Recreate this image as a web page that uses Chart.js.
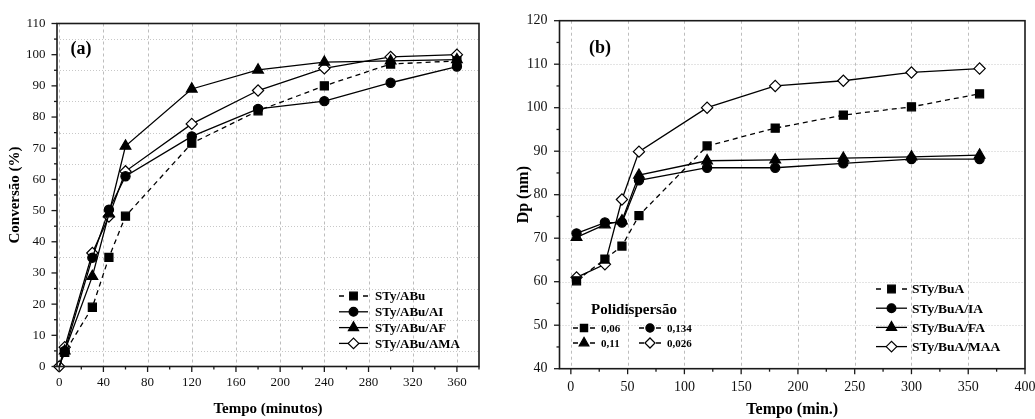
<!DOCTYPE html>
<html><head><meta charset="utf-8">
<script src="https://cdn.jsdelivr.net/npm/chart.js@4.4.0/dist/chart.umd.min.js"></script>
<style>
html,body{margin:0;padding:0;background:#fff;overflow:hidden}
#wrap{position:relative;width:1035px;height:419px;background:#fff}
#c1{position:absolute;left:0;top:0}
#c2{position:absolute;left:510px;top:0}
</style></head><body>
<div id="wrap">
<canvas id="c1" width="510" height="419"></canvas>
<canvas id="c2" width="525" height="419"></canvas>
</div>
<script>
// ---------- data (a) ----------
const timeA = [0, 5, 30, 45, 60, 120, 180, 240, 300, 360];
const convABu    = [0, 4.5, 19, 35, 48.2, 71.6, 82, 90, 97, 98];
const convABuAI  = [0, 5, 34.9, 50.3, 61, 73.8, 82.6, 85.1, 91, 96.2];
const convABuAF  = [0, 5, 28.9, 49, 70.7, 89, 95.1, 97.6, 98, 98.4];
const convABuAMA = [0, 6.2, 36.4, 48.1, 62.6, 77.8, 88.5, 95.6, 99.3, 100];
const labelsA = ['STy/ABu', 'STy/ABu/AI', 'STy/ABu/AF', 'STy/ABu/AMA'];
// ---------- data (b) ----------
const timeB = [5, 30, 45, 60, 120, 180, 240, 300, 360];
const dpBuA    = [60.2, 65.2, 68.2, 75.2, 91.2, 95.3, 98.3, 100.2, 103.2];
const dpBuAIA  = [71.1, 73.6, 73.6, 83.3, 86.2, 86.2, 87.2, 88.2, 88.2];
const dpBuAFA  = [70.2, 73.1, 74, 84.5, 87.8, 88, 88.4, 88.7, 89.1];
const dpBuAMAA = [61, 64, 78.9, 89.9, 100, 105, 106.2, 108.1, 109];
const labelsB = ['STy/BuA', 'STy/BuA/IA', 'STy/BuA/FA', 'STy/BuA/MAA'];
const polyLabels = ['0,06', '0,134', '0,11', '0,026'];

const SERIF = '"Liberation Serif", "DejaVu Serif", serif';
Chart.defaults.color = '#111';

function seq(a, b, s) { const r = []; for (let v = a; v <= b + 1e-9; v += s) r.push(+v.toFixed(6)); return r; }

const STYLES = [
  {pointStyle: 'rect', radius: 5.7, fill: '#000', dash: [5, 4]},
  {pointStyle: 'circle', radius: 4.6, fill: '#000', dash: []},
  {pointStyle: 'triangle', radius: 6.2, fill: '#000', dash: []},
  {pointStyle: 'rectRot', radius: 5.6, fill: '#fff', dash: []}
];

function marker(ctx, st, x, y, scale) {
  const r = st.radius * (scale || 1);
  ctx.save();
  ctx.setLineDash([]);
  ctx.fillStyle = st.fill; ctx.strokeStyle = '#000'; ctx.lineWidth = 1.2;
  ctx.beginPath();
  if (st.pointStyle === 'rect') { const s = r * Math.SQRT1_2; ctx.rect(x - s, y - s, 2 * s, 2 * s); }
  else if (st.pointStyle === 'circle') { ctx.arc(x, y, r, 0, Math.PI * 2); }
  else if (st.pointStyle === 'triangle') {
    let a = 0; ctx.moveTo(x + Math.sin(a) * r, y - Math.cos(a) * r);
    a += 2 * Math.PI / 3; ctx.lineTo(x + Math.sin(a) * r, y - Math.cos(a) * r);
    a += 2 * Math.PI / 3; ctx.lineTo(x + Math.sin(a) * r, y - Math.cos(a) * r);
    ctx.closePath();
  } else { ctx.moveTo(x - r, y); ctx.lineTo(x, y - r); ctx.lineTo(x + r, y); ctx.lineTo(x, y + r); ctx.closePath(); }
  ctx.fill(); ctx.stroke();
  ctx.restore();
}

function makeDatasets(xs, series, labels, hideFirst) {
  return series.map((ys, i) => ({
    label: labels[i],
    data: xs.map((x, k) => ({x: x, y: ys[k]})),
    borderColor: '#000',
    borderWidth: 1.3,
    borderDash: STYLES[i].dash,
    backgroundColor: STYLES[i].fill,
    pointStyle: STYLES[i].pointStyle,
    pointRadius: ctx => (hideFirst && ctx.dataIndex === 0 && i !== 3) ? 0 : STYLES[i].radius,
    pointHoverRadius: STYLES[i].radius,
    pointBackgroundColor: STYLES[i].fill,
    pointBorderColor: '#000',
    pointBorderWidth: 1.2,
    tension: 0,
    fill: false,
    clip: 6
  }));
}

function decoPlugin(o) {
  return {
    id: 'deco',
    beforeDatasetsDraw(chart) {
      const {ctx, chartArea: a, scales} = chart; const x = scales.x, y = scales.y;
      ctx.save();
      ctx.lineWidth = 1; ctx.strokeStyle = '#bdbdbd';
      ctx.setLineDash([3, 3]);
      o.vGrid.forEach(v => { const p = Math.round(x.getPixelForValue(v)) + 0.5; ctx.beginPath(); ctx.moveTo(p, a.top); ctx.lineTo(p, a.bottom); ctx.stroke(); });
      ctx.strokeStyle = '#c8c8c8';
      ctx.setLineDash([1, 2]);
      o.hGrid.forEach(v => { const p = Math.round(y.getPixelForValue(v)) + 0.5; ctx.beginPath(); ctx.moveTo(a.left, p); ctx.lineTo(a.right, p); ctx.stroke(); });
      ctx.restore();
    },
    afterDraw(chart) {
      const {ctx, chartArea: a, scales} = chart; const x = scales.x, y = scales.y;
      ctx.save();
      ctx.setLineDash([]);
      ctx.strokeStyle = '#1a1a1a'; ctx.lineWidth = 1.6;
      ctx.strokeRect(a.left, a.top, a.right - a.left, a.bottom - a.top);
      ctx.lineWidth = 1.3;
      const tick = (vals, len, isX) => vals.forEach(v => {
        ctx.beginPath();
        if (isX) { const p = x.getPixelForValue(v); ctx.moveTo(p, a.bottom); ctx.lineTo(p, a.bottom + len); }
        else { const p = y.getPixelForValue(v); ctx.moveTo(a.left, p); ctx.lineTo(a.left - len, p); }
        ctx.stroke();
      });
      tick(o.xMajor, 5.5, true); tick(o.xMinor, 3, true);
      tick(o.yMajor, 5.5, false); tick(o.yMinor, 3, false);
      // panel label
      ctx.fillStyle = '#000';
      ctx.font = 'bold 18px ' + SERIF;
      ctx.textAlign = 'center'; ctx.textBaseline = 'middle';
      ctx.fillText(o.panel.text, o.panel.x, o.panel.y);
      // legend
      const L = o.legend;
      ctx.font = 'bold ' + L.font + 'px ' + SERIF;
      ctx.textAlign = 'left';
      L.labels.forEach((lab, i) => {
        const yy = L.y0 + i * L.dy;
        ctx.strokeStyle = '#000'; ctx.lineWidth = 1.3;
        if (i === 0) {
          ctx.beginPath(); ctx.moveTo(L.x0, yy); ctx.lineTo(L.x0 + L.dashLen, yy);
          ctx.moveTo(L.x1 - L.dashLen, yy); ctx.lineTo(L.x1, yy); ctx.stroke();
        } else {
          ctx.beginPath(); ctx.moveTo(L.x0, yy); ctx.lineTo(L.x1, yy); ctx.stroke();
        }
        marker(ctx, STYLES[i], (L.x0 + L.x1) / 2, yy, 0.95);
        ctx.fillStyle = '#000';
        ctx.fillText(lab, L.tx, yy + 1);
      });
      // inset
      if (o.inset) {
        const I = o.inset;
        ctx.font = 'bold 15px ' + SERIF; ctx.textAlign = 'center'; ctx.fillStyle = '#000';
        ctx.fillText(I.title, I.tcx, I.ty);
        ctx.font = 'bold 11px ' + SERIF; ctx.textAlign = 'left';
        I.items.forEach(it => {
          ctx.strokeStyle = '#000'; ctx.lineWidth = 1.5;
          ctx.beginPath(); ctx.moveTo(it.mx - 11, it.y); ctx.lineTo(it.mx - 6, it.y);
          ctx.moveTo(it.mx + 6, it.y); ctx.lineTo(it.mx + 11, it.y); ctx.stroke();
          marker(ctx, STYLES[it.s], it.mx, it.y, 0.9);
          ctx.fillStyle = '#000';
          ctx.fillText(it.text, it.mx + 17, it.y + 1);
        });
      }
      ctx.restore();
    }
  };
}

function axisCfg(o) {
  return {
    type: 'linear', min: o.min, max: o.max,
    grid: {display: false, drawTicks: false},
    border: {display: false},
    afterBuildTicks: s => { s.ticks = o.ticks.map(v => ({value: v})); },
    ticks: {font: {family: SERIF, size: o.fontSize}, color: '#111', padding: o.pad, autoSkip: false, maxRotation: 0, callback: v => String(v)},
    title: {display: true, text: o.title, color: '#000', font: {family: SERIF, size: o.titleSize, weight: 'bold'}, padding: o.titlePad},
    afterFit: s => {
      if (o.width != null) { s.width = o.width; s.paddingTop = 0; s.paddingBottom = 0; }
      if (o.height != null) { s.height = o.height; s.paddingLeft = 0; s.paddingRight = 0; }
    }
  };
}

// ---------- chart (a) ----------
new Chart(document.getElementById('c1'), {
  type: 'line',
  data: {datasets: makeDatasets(timeA, [convABu, convABuAI, convABuAF, convABuAMA], labelsA, true)},
  options: {
    responsive: false, animation: false, events: [],
    layout: {padding: {top: 23.5, right: 31, left: 0, bottom: 0}},
    plugins: {legend: {display: false}, tooltip: {enabled: false}},
    scales: {
      x: axisCfg({min: -2, max: 380, ticks: seq(0, 360, 40), fontSize: 13, pad: 8.5, title: 'Tempo (minutos)', titleSize: 15, titlePad: {top: 0, bottom: 1}, height: 52.5}),
      y: axisCfg({min: 0, max: 110, ticks: seq(0, 110, 10), fontSize: 13, pad: 11.5, title: 'Conversão (%)', titleSize: 15, titlePad: {top: 6, bottom: 0}, width: 57})
    }
  },
  plugins: [decoPlugin({
    vGrid: seq(0, 360, 40), hGrid: seq(5, 105, 10),
    xMajor: seq(0, 360, 40), xMinor: seq(20, 380, 40),
    yMajor: seq(0, 110, 10), yMinor: seq(5, 105, 10),
    panel: {text: '(a)', x: 81, y: 49},
    legend: {labels: labelsA, x0: 339, x1: 368, dashLen: 5, tx: 375, y0: 296, dy: 15.8, font: 13}
  })]
});

// ---------- chart (b) ----------
new Chart(document.getElementById('c2'), {
  type: 'line',
  data: {datasets: makeDatasets(timeB, [dpBuA, dpBuAIA, dpBuAFA, dpBuAMAA], labelsB, false)},
  options: {
    responsive: false, animation: false, events: [],
    layout: {padding: {top: 20.7, right: 10, left: 0, bottom: 0}},
    plugins: {legend: {display: false}, tooltip: {enabled: false}},
    scales: {
      x: axisCfg({min: -10, max: 400, ticks: seq(0, 400, 50), fontSize: 14, pad: 10, title: 'Tempo (min.)', titleSize: 16, titlePad: {top: 0, bottom: 0}, height: 50.3}),
      y: axisCfg({min: 40, max: 120, ticks: seq(40, 120, 10), fontSize: 14, pad: 12, title: 'Dp (nm)', titleSize: 16, titlePad: {top: 4.5, bottom: 0}, width: 49.5})
    }
  },
  plugins: [decoPlugin({
    vGrid: seq(0, 350, 50), hGrid: seq(50, 110, 10),
    xMajor: seq(0, 400, 50), xMinor: seq(25, 375, 50),
    yMajor: seq(40, 120, 10), yMinor: seq(45, 115, 10),
    panel: {text: '(b)', x: 90, y: 48},
    legend: {labels: labelsB, x0: 366, x1: 397, dashLen: 5, tx: 402, y0: 289, dy: 19.2, font: 13.5},
    inset: {title: 'Polidispersão', tcx: 124, ty: 310, items: [
      {s: 0, mx: 74, y: 328, text: polyLabels[0]},
      {s: 1, mx: 140, y: 328, text: polyLabels[1]},
      {s: 2, mx: 74, y: 343, text: polyLabels[2]},
      {s: 3, mx: 140, y: 343, text: polyLabels[3]}
    ]}
  })]
});
</script>
</body></html>
